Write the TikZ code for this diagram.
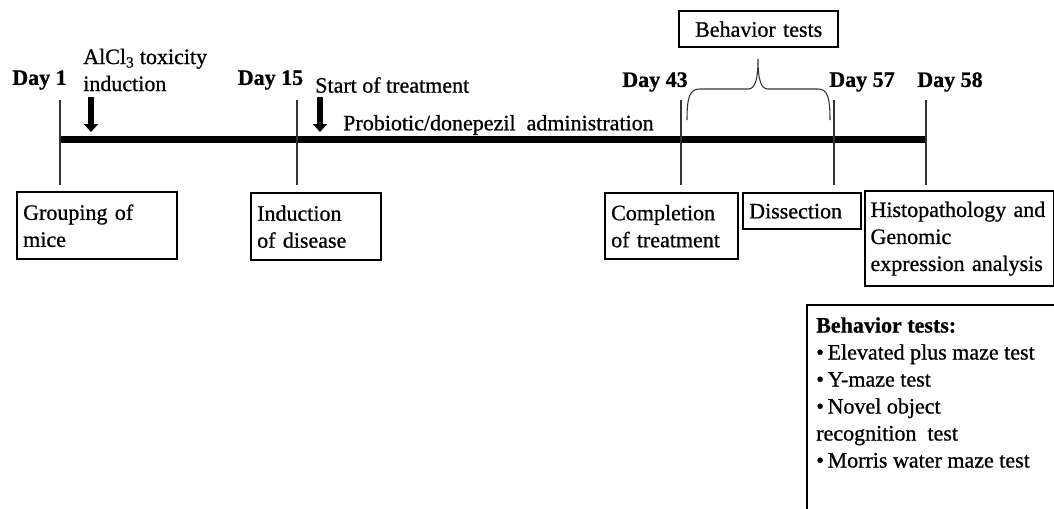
\documentclass[tikz,border=0pt]{standalone}
\usepackage{fontspec}
\setmainfont{Liberation Serif}[RawFeature={embolden=0.8}]
\usetikzlibrary{arrows.meta}
\tikzset{
  lbl/.style={font=\fontsize{16.5}{20.25}\selectfont, inner sep=0pt},
  daylbl/.style={font=\fontsize{16.5}{20.25}\selectfont\bfseries, inner sep=0pt},
  tbox/.style 2 args={draw, line width=1.8pt, anchor=north west, align=left,
    font=\fontsize{16.5}{20.25}\selectfont, inner xsep=4.5pt, inner ysep=0pt,
    text width=#1, minimum height=#2},
  tick/.style={draw=black!80, line width=0.8pt},
  timeline/.style={draw=black, line width=5.25pt},
  downarrow/.style={draw=black, line width=4.5pt, -{Triangle[width=10.5pt,length=6pt]}},
  bracepath/.style={draw=black!80, line width=0.8pt},
}
\begin{document}
\begin{tikzpicture}[x=0.75pt,y=-0.75pt]
\useasboundingbox (0,0) rectangle (1054,508);
\clip (0,0) rectangle (1054,508);

% timeline
\coordinate (t0) at (60,139);
\coordinate (t1) at (926,139);
\draw[timeline] (t0) -- (t1);

% day labels
\node[daylbl] (d1)  at (39.5,80) {Day 1};
\node[daylbl] (d15) at (270.5,80) {Day 15};
\node[daylbl] (d43) at (655,82) {Day 43};
\node[daylbl] (d57) at (862,82) {Day 57};
\node[daylbl] (d58) at (950,82) {Day 58};

% ticks
\coordinate (k1a) at (60,100);  \coordinate (k1b) at (60,185);
\coordinate (k2a) at (297,100); \coordinate (k2b) at (297,185);
\coordinate (k3a) at (681,100); \coordinate (k3b) at (681,185);
\coordinate (k4a) at (834,100); \coordinate (k4b) at (834,185);
\coordinate (k5a) at (926,100); \coordinate (k5b) at (926,185);
\draw[tick] (k1a) -- (k1b);
\draw[tick] (k2a) -- (k2b);
\draw[tick] (k3a) -- (k3b);
\draw[tick] (k4a) -- (k4b);
\draw[tick] (k5a) -- (k5b);

% top labels
\node[lbl, anchor=west, align=left] (alcl) at (83,70) {AlCl\textsubscript{3} toxicity\\induction};
\node[lbl, anchor=west] (start) at (315,85) {Start of treatment};
\node[lbl, anchor=west] (prob) at (343,125) {Probiotic/donepezil\ \ administration};

% arrows
\coordinate (a1s) at (91,97);  \coordinate (a1e) at (91,132);
\coordinate (a2s) at (320,97); \coordinate (a2e) at (320,132);
\draw[downarrow] (a1s) -- (a1e);
\draw[downarrow] (a2s) -- (a2e);

% behavior tests box and brace
\node[tbox={110.25pt}{27pt}, align=center] (bt) at (678,10) {Behavior tests};
\coordinate (brL) at (687,120);
\coordinate (brT) at (758,59);
\coordinate (brR) at (830,120);
\draw[bracepath] (brL) .. controls (687,96) and (690,89) .. (700,89) -- (748,89)
  .. controls (755,89) and (758,80) .. (brT)
  .. controls (758,80) and (761,89) .. (768,89) -- (818,89)
  .. controls (827,89) and (830,96) .. (brR);

% bottom boxes
\node[tbox={111pt}{50.25pt}] (grp) at (16,191) {Grouping of\\mice};
\node[tbox={88.5pt}{50.25pt}] (ind) at (250,192) {Induction\\of disease};
\node[tbox={90.75pt}{49.5pt}] (cmp) at (604,192) {Completion\\of treatment};
\node[tbox={79.5pt}{27pt}] (dis) at (742,192) {Dissection};
\node[tbox={133.5pt}{71.25pt}, inner xsep=4pt] (his) at (864,190) {Histopathology and\\Genomic\\expression analysis};

% behavior tests list box
\draw[line width=1.6pt] (1070,305) -- (807,305) -- (807,520);
\node[lbl, anchor=north west, align=left] (list) at (816,317)
  {\textbf{Behavior tests:}\\
   •\,Elevated plus maze test\\
   •\,Y-maze test\\
   •\,Novel object\\
   recognition\ \ test\\
   •\,Morris water maze test};
\end{tikzpicture}
\end{document}
